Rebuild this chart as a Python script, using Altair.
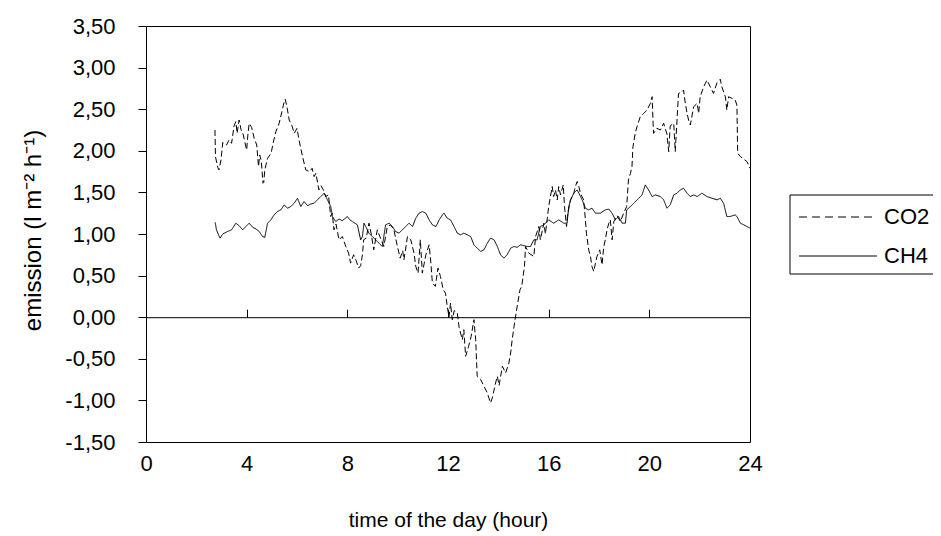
import altair as alt
import pandas as pd

# ---------------- data ----------------
co2_hours = [2.74, 2.76, 2.85, 2.90, 2.98, 3.05, 3.20, 3.30, 3.40, 3.50, 3.57, 3.62, 3.70, 3.78, 3.85, 3.93,
             4.00, 4.05, 4.10, 4.20, 4.30, 4.40, 4.47, 4.52, 4.58, 4.65, 4.68, 4.72, 4.83, 4.97, 5.05, 5.16,
             5.29, 5.40, 5.49, 5.53, 5.60, 5.69, 5.80, 5.89, 6.00, 6.08, 6.22, 6.35, 6.50, 6.60, 6.68, 6.75,
             6.87, 6.95, 7.05, 7.14, 7.25, 7.34, 7.40, 7.47, 7.55, 7.67, 7.80, 7.94, 8.05, 8.13, 8.25, 8.35,
             8.45, 8.53, 8.60, 8.65, 8.75, 8.86, 8.95, 9.05, 9.19, 9.32, 9.45, 9.59, 9.72, 9.85, 9.99, 10.10,
             10.20, 10.25, 10.39, 10.52, 10.65, 10.72, 10.81, 10.90, 10.98, 11.12, 11.25, 11.32, 11.38, 11.50,
             11.60, 11.70, 11.81, 11.90, 11.97, 12.04, 12.10, 12.17, 12.25, 12.37, 12.44, 12.50, 12.57, 12.63,
             12.70, 12.82, 12.92, 13.03, 13.10, 13.16, 13.30, 13.43, 13.56, 13.69, 13.76, 13.89, 13.96, 14.03,
             14.16, 14.29, 14.42, 14.49, 14.55, 14.62, 14.68, 14.75, 14.86, 14.93, 15.00, 15.04, 15.08, 15.21,
             15.41, 15.48, 15.61, 15.67, 15.81, 15.87, 16.00, 16.14, 16.20, 16.27, 16.34, 16.40, 16.47, 16.58,
             16.63, 16.71, 16.76, 16.87, 17.00, 17.06, 17.13, 17.20, 17.26, 17.39, 17.46, 17.50, 17.59, 17.66,
             17.72, 17.79, 17.86, 17.92, 18.03, 18.12, 18.19, 18.25, 18.32, 18.39, 18.45, 18.52, 18.59, 18.72,
             18.85, 18.98, 19.10, 19.17, 19.25, 19.31, 19.35, 19.44, 19.51, 19.64, 19.78, 19.91, 20.04, 20.11,
             20.15, 20.17, 20.30, 20.44, 20.57, 20.70, 20.77, 20.83, 20.97, 21.03, 21.10, 21.16, 21.30, 21.36,
             21.43, 21.50, 21.56, 21.63, 21.76, 21.90, 21.96, 22.02, 22.16, 22.29, 22.42, 22.55, 22.69, 22.82,
             22.88, 23.02, 23.08, 23.15, 23.28, 23.41, 23.48, 23.51, 23.62, 23.75, 23.88, 24.00]
co2_values = [2.25, 1.93, 1.80, 1.77, 1.89, 2.10, 2.07, 2.13, 2.09, 2.30, 2.35, 2.21, 2.37, 2.25, 2.21, 2.10,
              2.01, 2.20, 2.33, 2.28, 2.15, 2.07, 1.81, 1.95, 1.88, 1.61, 1.62, 1.77, 1.91, 1.97, 2.09, 2.23,
              2.33, 2.47, 2.59, 2.62, 2.53, 2.37, 2.30, 2.21, 2.27, 2.13, 1.93, 1.77, 1.75, 1.79, 1.69, 1.73,
              1.53, 1.58, 1.53, 1.45, 1.47, 1.21, 1.25, 1.05, 1.12, 0.93, 0.97, 0.85, 0.77, 0.65, 0.75, 0.68,
              0.59, 0.62, 0.75, 0.93, 0.95, 1.13, 1.00, 0.81, 1.05, 0.95, 0.85, 1.09, 1.11, 1.05, 0.85, 0.71,
              0.80, 0.69, 0.97, 0.93, 0.77, 0.61, 0.53, 0.93, 0.53, 0.75, 0.87, 0.65, 0.41, 0.37,
              0.59, 0.49, 0.33, 0.29, 0.13, 0.00, 0.17, -0.03, 0.08, 0.05, -0.12, -0.19, -0.27, -0.15,
              -0.47, -0.35, -0.23, -0.03, -0.27, -0.71, -0.75, -0.83, -0.91, -1.03, -0.97, -0.79, -0.71, -0.82,
              -0.59, -0.67, -0.55, -0.43, -0.27, -0.12, 0.00, 0.13, 0.33, 0.37, 0.53, 0.61, 0.85, 0.77,
              0.73, 0.97, 1.09, 0.93, 1.13, 1.00, 1.33, 1.57, 1.45, 1.53, 1.41, 1.57, 1.47, 1.59,
              1.33, 1.09, 1.25, 1.41, 1.49, 1.57, 1.63, 1.57, 1.49, 1.41, 1.17, 1.01, 0.81, 0.73,
              0.61, 0.55, 0.65, 0.73, 0.81, 0.63, 0.85, 0.93, 1.05, 1.13, 1.17, 0.93, 1.15, 1.22,
              1.15, 1.25, 1.33, 1.65, 1.73, 1.81, 2.05, 2.21, 2.29, 2.41, 2.45, 2.49, 2.57, 2.65,
              2.33, 2.21, 2.27, 2.25, 2.33, 2.20, 1.99, 2.30, 2.33, 1.99, 2.37, 2.69, 2.71, 2.73,
              2.57, 2.45, 2.37, 2.31, 2.53, 2.57, 2.45, 2.65, 2.77, 2.85, 2.77, 2.69, 2.82, 2.86,
              2.77, 2.65, 2.49, 2.65, 2.63, 2.61, 2.55, 1.97, 1.93, 1.90, 1.87, 1.79]

ch4_hours = [2.75, 2.80, 2.94, 3.05, 3.24, 3.40, 3.57, 3.70, 3.84, 3.97, 4.10, 4.24, 4.37, 4.50, 4.63, 4.72,
             4.83, 4.96, 5.09, 5.22, 5.36, 5.49, 5.62, 5.75, 5.89, 6.02, 6.15, 6.28, 6.42, 6.55, 6.68, 6.81,
             6.94, 7.08, 7.21, 7.34, 7.41, 7.54, 7.67, 7.80, 8.00, 8.10, 8.20, 8.30, 8.40, 8.47, 8.53, 8.60,
             8.66, 8.73, 8.86, 8.99, 9.12, 9.26, 9.39, 9.52, 9.66, 9.79, 9.92, 10.05, 10.19, 10.32, 10.45,
             10.59, 10.72, 10.85, 10.98, 11.12, 11.25, 11.38, 11.52, 11.65, 11.78, 11.84, 11.97, 12.10, 12.24,
             12.37, 12.50, 12.63, 12.77, 12.90, 13.03, 13.16, 13.30, 13.43, 13.56, 13.69, 13.83, 13.96, 14.09,
             14.22, 14.35, 14.49, 14.62, 14.75, 14.88, 15.01, 15.15, 15.28, 15.41, 15.54, 15.67, 15.81, 16.00,
             16.20, 16.40, 16.60, 16.73, 16.80, 16.87, 17.00, 17.13, 17.20, 17.33, 17.46, 17.59, 17.72, 17.86,
             18.05, 18.25, 18.39, 18.52, 18.65, 18.78, 18.92, 19.05, 19.10, 19.25, 19.38, 19.58, 19.71, 19.84,
             19.97, 20.11, 20.24, 20.44, 20.57, 20.70, 20.83, 20.97, 21.10, 21.23, 21.36, 21.50, 21.63, 21.76,
             21.90, 22.09, 22.29, 22.49, 22.69, 22.82, 22.95, 23.08, 23.21, 23.41, 23.48, 23.62, 23.75, 23.88,
             24.00]
ch4_values = [1.14, 1.05, 0.95, 1.00, 1.03, 1.05, 1.13, 1.10, 1.05, 1.09, 1.13, 1.08, 1.06, 1.03, 0.97, 0.96,
              1.13, 1.17, 1.23, 1.27, 1.29, 1.35, 1.31, 1.33, 1.37, 1.43, 1.33, 1.39, 1.34, 1.36, 1.37, 1.41,
              1.45, 1.49, 1.41, 1.33, 1.21, 1.15, 1.18, 1.16, 1.21, 1.17, 1.15, 1.13, 1.11, 1.01, 0.93, 0.97,
              1.13, 1.09, 1.01, 0.97, 0.93, 0.89, 0.85, 1.11, 1.13, 1.09, 1.03, 1.01, 1.05, 1.09, 1.13,
              1.09, 1.19, 1.25, 1.27, 1.25, 1.17, 1.11, 1.09, 1.17, 1.23, 1.25, 1.19, 1.17, 1.09,
              1.01, 0.99, 1.01, 0.99, 0.97, 0.87, 0.83, 0.79, 0.81, 0.89, 0.95, 0.93, 0.85, 0.75,
              0.71, 0.75, 0.83, 0.85, 0.84, 0.87, 0.86, 0.85, 0.85, 0.93, 0.93, 1.09, 1.11, 1.17,
              1.13, 1.17, 1.13, 1.13, 1.33, 1.41, 1.49, 1.53, 1.49, 1.41, 1.31, 1.29, 1.31, 1.25,
              1.25, 1.29, 1.30, 1.25, 1.17, 1.21, 1.13, 1.13, 1.29, 1.33, 1.37, 1.43, 1.47, 1.59,
              1.53, 1.45, 1.47, 1.45, 1.41, 1.31, 1.35, 1.47, 1.49, 1.53, 1.55, 1.49, 1.45, 1.47,
              1.45, 1.49, 1.45, 1.43, 1.41, 1.43, 1.37, 1.21, 1.21, 1.23, 1.21, 1.13, 1.11, 1.09,
              1.07]

series_names = ["CO2", "CH4"]
x_ticks = [0, 4, 8, 12, 16, 20, 24]
y_ticks = [-1.5, -1.0, -0.5, 0.0, 0.5, 1.0, 1.5, 2.0, 2.5, 3.0, 3.5]
x_title = "time of the day (hour)"
y_title = "emission (l m\u207b\u00b2 h\u207b\u00b9)"

df = pd.concat([
    pd.DataFrame({"t": co2_hours, "v": co2_values, "series": series_names[0]}),
    pd.DataFrame({"t": ch4_hours, "v": ch4_values, "series": series_names[1]}),
], ignore_index=True)
legend_df = pd.DataFrame({"series": series_names})

FONT = "Liberation Sans"
LABEL_FS = 22
XTITLE_FS = 21
YTITLE_FS = 24
LEGEND_FS = 22
W, H = 604, 416

xscale = alt.Scale(domain=[0, 24], nice=False, zero=False)
yscale = alt.Scale(domain=[-1.5, 3.5], nice=False, zero=False)

lines = alt.Chart(df).mark_line(color="black", strokeWidth=1, clip=True).encode(
    x=alt.X("t:Q", scale=xscale,
            axis=alt.Axis(orient="bottom", values=x_ticks, title=x_title, domain=False, ticks=False,
                          tickSize=0, grid=False, labelPadding=11, labelFlush=False, labelOverlap=False,
                          labelFont=FONT, labelFontSize=LABEL_FS, labelColor="black",
                          titleFont=FONT, titleFontSize=XTITLE_FS, titleFontWeight="normal",
                          titleColor="black", titleY=78, titleBaseline="middle")),
    y=alt.Y("v:Q", scale=yscale,
            axis=alt.Axis(values=y_ticks,
                          labelExpr="replace(replace(format(datum.value, '.2f'), '.', ','), '\u2212', '-')",
                          tickSize=8, tickColor="black", domainColor="black", grid=False,
                          labelPadding=23, labelFont=FONT, labelFontSize=LABEL_FS, labelColor="black",
                          labelOverlap=False,
                          title=y_title, titleFont=FONT, titleFontSize=YTITLE_FS, titleFontWeight="normal",
                          titleColor="black", titleAngle=270, titleX=-113, titleY=204,
                          titleBaseline="middle", titleAlign="center")),
    strokeDash=alt.StrokeDash("series:N", scale=alt.Scale(domain=series_names, range=[[6, 3], [1, 0]]),
                              legend=None),
    detail="series:N",
)

# zero-line axis with ticks pointing up
zero_axis = alt.Chart(df).mark_line(opacity=0).encode(
    x=alt.X("t:Q", scale=xscale,
            axis=alt.Axis(orient="top", offset=-291.2, values=x_ticks, labels=False, title="",
                          tickSize=8, tickColor="black", domainColor="black", grid=False)),
    y=alt.Y("v:Q", scale=yscale, axis=None),
    detail="series:N",
)

legend_box = alt.Chart(pd.DataFrame({"k": [0]})).mark_rect(fill="white", stroke="black", strokeWidth=1).encode(
    x=alt.value(644), x2=alt.value(830), y=alt.value(169), y2=alt.value(248)
)

leg_layers = []
for name, ypix, dash in [(series_names[0], 191, [8, 5]), (series_names[1], 230, [1, 0])]:
    base = alt.Chart(legend_df).transform_filter(alt.datum.series == name)
    leg_layers.append(base.mark_rule(color="black", strokeWidth=1, strokeDash=dash).encode(
        x=alt.value(653), x2=alt.value(731), y=alt.value(ypix)))
    leg_layers.append(base.mark_text(align="left", baseline="middle", font=FONT, fontSize=LEGEND_FS,
                                     color="black").encode(
        x=alt.value(738), y=alt.value(ypix), text="series:N"))

chart = alt.layer(lines, zero_axis, legend_box, *leg_layers).resolve_axis(
    x="independent", y="independent"
).properties(
    width=W, height=H,
    autosize=alt.AutoSizeParams(type="none"),
    padding={"left": 138, "top": 18, "right": 183, "bottom": 94},
    background="white",
).configure_view(stroke="black", strokeWidth=1)

chart.save("out.html", embed_options={"renderer": "svg", "actions": False})
